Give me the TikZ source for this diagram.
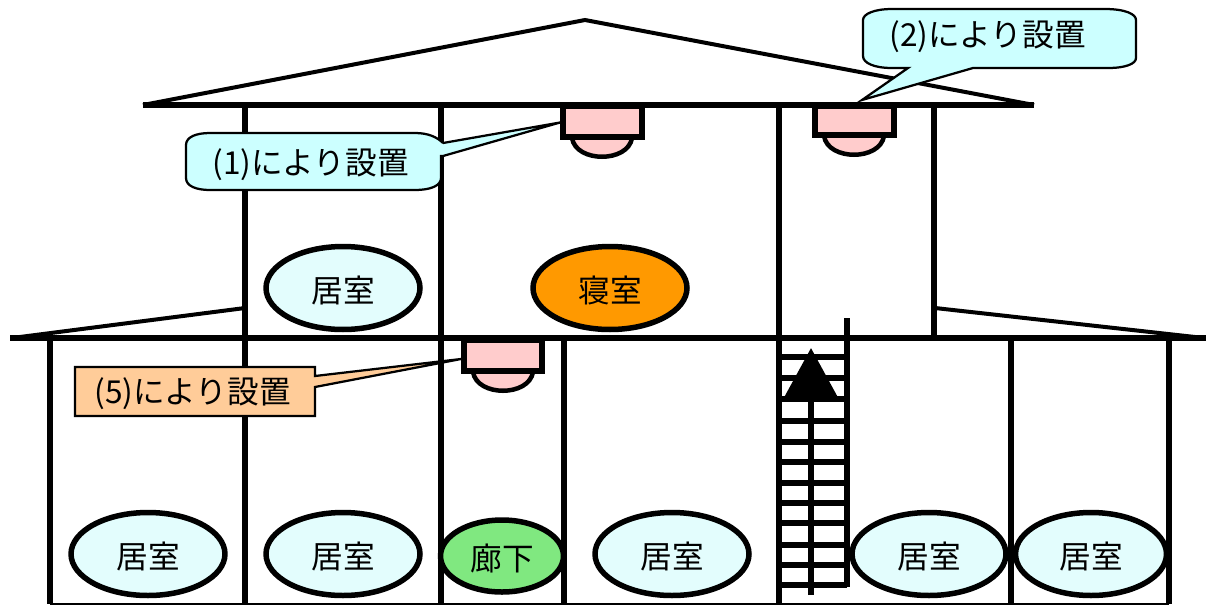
\documentclass[tikz,border=0pt]{standalone}
\usepackage{fontspec}
\setmainfont{Noto Sans CJK JP}
\usetikzlibrary{shapes.geometric,arrows.meta}
\definecolor{roomcyan}{HTML}{E3FDFD}
\definecolor{notecyan}{HTML}{CCFFFF}
\definecolor{noteorange}{HTML}{FFCC99}
\definecolor{sensorpink}{HTML}{FFCCCC}
\definecolor{hallgreen}{HTML}{80E880}
\definecolor{bedorange}{HTML}{FF9900}
\tikzset{
	wall/.style={line width=0.105cm},
	roof/.style={line width=0.08cm},
	sensor/.style={fill=sensorpink,draw,line width=0.11cm},
	room/.style={ellipse,draw,line width=0.11cm,minimum width=3.08cm,minimum height=1.66cm,inner sep=0pt,text height=0.64cm,font=\fontsize{18}{20}\selectfont},
	note/.style={draw,line width=0.045cm},
	notetext/.style={inner sep=0pt,font=\fontsize{18}{20}\selectfont}
}
\begin{document}
\begin{tikzpicture}[x=0.02cm,y=-0.02cm]
			\useasboundingbox (0,0) rectangle (1206,606);
			
			% Roof lines
			\draw[roof] (143,105) -- (585,20) -- (1034,105);
			\draw[roof] (12,338) -- (245,308);
			\draw[roof] (935,308) -- (1204,338);
			
			% Ceiling and floor
			\draw[line width=0.11cm] (143,105) -- (1034,105);
			\draw[line width=0.13cm] (10,338) -- (1206,338);
			\draw[line width=0.05cm] (50,604) -- (1169,604);
			
			% Walls
			\draw[wall] (245,105) -- (245,604);
			\draw[wall] (441,105) -- (441,604);
			\draw[wall] (779,105) -- (779,604);
			\draw[wall] (934,105) -- (934,338);
			\draw[wall] (50,338) -- (50,604);
			\draw[wall] (564,338) -- (564,604);
			\draw[wall] (1011,338) -- (1011,604);
			\draw[wall] (1169,338) -- (1169,604);
			
			% Stairs
			\draw[wall] (847,318) -- (847,587);
			\draw[wall] (779,357) -- (847,357);
			\draw[wall] (779,378) -- (847,378);
			\draw[wall] (779,399) -- (847,399);
			\draw[wall] (779,421) -- (847,421);
			\draw[wall] (779,442) -- (847,442);
			\draw[wall] (779,462) -- (847,462);
			\draw[wall] (779,483) -- (847,483);
			\draw[wall] (779,503) -- (847,503);
			\draw[wall] (779,523) -- (847,523);
			\draw[wall] (779,545) -- (847,545);
			\draw[wall] (779,565) -- (847,565);
			\draw[wall] (779,585) -- (847,585);
			\coordinate (stairfoot) at (811,595);
			\coordinate (stairtop) at (811,348);
			\draw[-{Triangle[length=0.98cm,width=1.04cm]},line width=0.11cm] (stairfoot) -- (stairtop);
			
			% Sensors
			\draw[sensor,line width=0.09cm] (572,138) .. controls (576,163) and (628,163) .. (632,138);
			\draw[sensor] (563,106) rectangle (642,137);
			\draw[sensor,line width=0.09cm] (824,136) .. controls (828,161) and (880,161) .. (884,136);
			\draw[sensor] (815,106) rectangle (894,135);
			\draw[sensor,line width=0.09cm] (473,372) .. controls (477,397) and (529,397) .. (533,372);
			\draw[sensor] (464,340) rectangle (542,371);
			
			% Rooms
			\node[room,fill=roomcyan] (upperroom) at (343,288) {居室};
			\node[room,fill=bedorange] (bedroom) at (610,288) {寝室};
			\node[room,fill=roomcyan] (roomone) at (148,554) {居室};
			\node[room,fill=roomcyan] (roomtwo) at (343,554) {居室};
			\node[room,fill=hallgreen,minimum width=2.46cm,minimum height=1.44cm] (hallway) at (502,556) {廊下};
			\node[room,fill=roomcyan] (roomthree) at (672,554) {居室};
			\node[room,fill=roomcyan] (roomfour) at (929,554) {居室};
			\node[room,fill=roomcyan,minimum width=3.02cm] (roomfive) at (1091,554) {居室};
			
			% Callouts
			\draw[note,fill=notecyan] (443,143) -- (560,122.5) -- (443,156) -- (441,156) -- (441,178)
				.. controls (441,186) and (430,190) .. (415,190) -- (210,190)
				.. controls (196,190) and (186,186) .. (186,178) -- (186,145)
				.. controls (186,137) and (196,133) .. (210,133) -- (415,133)
				.. controls (428,133) and (437,137) .. (443,143);
			\node[notetext,anchor=west] (noteone) at (212,165) {(1)により設置};
			\draw[note,fill=notecyan] (908,68) -- (862,100) -- (973,68) -- (1108,68)
				.. controls (1125,68) and (1136,64) .. (1136,58) -- (1136,20)
				.. controls (1136,14) and (1125,9) .. (1105,9) -- (892,9)
				.. controls (874,9) and (863,14) .. (863,20) -- (863,56)
				.. controls (863,63) and (874,68) .. (892,68) -- cycle;
			\node[notetext,anchor=west] (notetwo) at (889,37) {(2)により設置};
			\draw[note,fill=noteorange] (315,376) -- (461,359) -- (315,387) -- (315,416) -- (75,416) -- (75,367) -- (315,367) -- cycle;
			\node[notetext,anchor=west] (notefive) at (94,394) {(5)により設置};
		\end{tikzpicture}
\end{document}
